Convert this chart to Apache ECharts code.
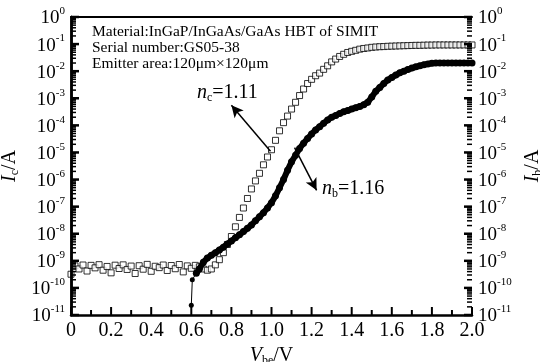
<!DOCTYPE html>
<html>
<head>
<meta charset="utf-8">
<script src="https://cdn.jsdelivr.net/npm/echarts@6/dist/echarts.min.js"></script>
<style>
  html, body { margin: 0; padding: 0; background: #fff; }
  #myChart { width: 540px; height: 362px; }
</style>
</head>
<body>
<div id="myChart"></div>
<script>
// Vbe sweep (V), shared by both currents
var vbe = [
  0.00, 0.02, 0.04, 0.06, 0.08, 0.10, 0.12, 0.14, 0.16, 0.18,
  0.20, 0.22, 0.24, 0.26, 0.28, 0.30, 0.32, 0.34, 0.36, 0.38,
  0.40, 0.42, 0.44, 0.46, 0.48, 0.50, 0.52, 0.54, 0.56, 0.58,
  0.60, 0.62, 0.64, 0.66, 0.68, 0.70, 0.72, 0.74, 0.76, 0.78,
  0.80, 0.82, 0.84, 0.86, 0.88, 0.90, 0.92, 0.94, 0.96, 0.98,
  1.00, 1.02, 1.04, 1.06, 1.08, 1.10, 1.12, 1.14, 1.16, 1.18,
  1.20, 1.22, 1.24, 1.26, 1.28, 1.30, 1.32, 1.34, 1.36, 1.38,
  1.40, 1.42, 1.44, 1.46, 1.48, 1.50, 1.52, 1.54, 1.56, 1.58,
  1.60, 1.62, 1.64, 1.66, 1.68, 1.70, 1.72, 1.74, 1.76, 1.78,
  1.80, 1.82, 1.84, 1.86, 1.88, 1.90, 1.92, 1.94, 1.96, 1.98,
  2.00
];

// collector current Ic (A), open squares
var icCurrent = [
  3.2e-10, 6.5e-10, 5.0e-10, 7.0e-10, 4.2e-10, 6.8e-10, 5.5e-10, 7.2e-10, 4.5e-10, 6.2e-10,
  3.6e-10, 6.9e-10, 5.2e-10, 7.1e-10, 4.8e-10, 6.4e-10, 3.4e-10, 6.6e-10, 4.9e-10, 7.4e-10,
  4.1e-10, 6.3e-10, 5.6e-10, 7.0e-10, 4.4e-10, 6.7e-10, 5.1e-10, 7.3e-10, 3.9e-10, 6.5e-10,
  5.3e-10, 6.8e-10, 6.0e-10, 5.0e-10, 4.5e-10, 5.0e-10, 7.1e-10, 1.1e-9, 2.0e-9, 4.0e-9,
  7.9e-9, 1.8e-8, 4.0e-8, 8.9e-8, 2.0e-7, 4.5e-7, 8.9e-7, 1.7e-6, 3.5e-6, 6.8e-6,
  1.26e-5, 2.8e-5, 6.3e-5, 1.26e-4, 2.2e-4, 4.0e-4, 7.1e-4, 1.26e-3, 2.2e-3, 3.5e-3,
  5.0e-3, 6.8e-3, 8.5e-3, 1.17e-2, 1.58e-2, 2.2e-2, 2.8e-2, 3.5e-2, 4.2e-2, 4.9e-2,
  5.4e-2, 5.9e-2, 6.5e-2, 6.9e-2, 7.2e-2, 7.6e-2, 7.8e-2, 8.0e-2, 8.1e-2, 8.3e-2,
  8.4e-2, 8.5e-2, 8.6e-2, 8.7e-2, 8.8e-2, 8.9e-2, 9.0e-2, 9.0e-2, 9.1e-2, 9.2e-2,
  9.2e-2, 9.3e-2, 9.3e-2, 9.3e-2, 9.3e-2, 9.3e-2, 9.3e-2, 9.3e-2, 9.3e-2, 9.3e-2,
  9.3e-2
];

// base current Ib (A), filled circles, from 0.64 V on
var ibStart = 32;
var ibCurrent = [
  5.0e-10, 8.9e-10, 1.26e-9, 1.6e-9, 2.0e-9, 2.5e-9, 3.2e-9, 4.2e-9, 5.4e-9, 7.1e-9,
  9.1e-9, 1.2e-8, 1.58e-8, 2.1e-8, 3.0e-8, 4.2e-8, 6.0e-8, 8.9e-8, 1.4e-7, 2.5e-7,
  5.0e-7, 1.0e-6, 2.2e-6, 4.5e-6, 7.9e-6, 1.4e-5, 2.2e-5, 3.3e-5, 4.8e-5, 6.8e-5,
  8.9e-5, 1.2e-4, 1.58e-4, 2.0e-4, 2.3e-4, 2.75e-4, 3.2e-4, 3.5e-4, 4.0e-4, 4.5e-4,
  5.0e-4, 5.8e-4, 7.1e-4, 1.12e-3, 1.8e-3, 2.5e-3, 3.5e-3, 4.7e-3, 5.9e-3, 7.2e-3,
  8.7e-3, 1.0e-2, 1.15e-2, 1.3e-2, 1.45e-2, 1.58e-2, 1.74e-2, 1.86e-2, 1.95e-2, 2.0e-2,
  2.0e-2, 2.0e-2, 2.0e-2, 2.0e-2, 2.0e-2, 2.0e-2, 2.0e-2, 2.0e-2, 2.0e-2
];
// the turn-on drop of Ib near 0.6 V
var ibTurnOnV = [0.600, 0.605, 0.625];
var ibTurnOnI = [2.3e-11, 2.0e-10, 3.5e-10];

// tick positions
var xMajorTicks = [0, 0.2, 0.4, 0.6, 0.8, 1.0, 1.2, 1.4, 1.6, 1.8, 2.0];
var xMinorTicks = [0.1, 0.3, 0.5, 0.7, 0.9, 1.1, 1.3, 1.5, 1.7, 1.9];
var decadeExps = [-11, -10, -9, -8, -7, -6, -5, -4, -3, -2, -1, 0];
var minorMantissas = [2, 3, 4, 5, 6, 7, 8, 9];

var infoLines = [
  'Material:InGaP/InGaAs/GaAs HBT of SIMIT',
  'Serial number:GS05-38',
  'Emitter area:120\u03bcm\u00d7120\u03bcm'
];

var FONT = '"Liberation Serif", "DejaVu Serif", serif';

function pairs(xs, ys, offset) {
  var d = [];
  for (var i = 0; i < ys.length; i++) {
    d.push([xs[i + (offset || 0)], ys[i]]);
  }
  return d;
}

function powLabel(v) {
  var e = Math.round(Math.log(v) / Math.LN10);
  return '{b|10}{s|' + e + '}';
}

var powRich = {
  b: { fontFamily: FONT, fontSize: 19, color: '#000', verticalAlign: 'bottom', lineHeight: 22 },
  s: { fontFamily: FONT, fontSize: 11, color: '#000', verticalAlign: 'top', lineHeight: 22 }
};

function nameRich(fs) {
  return {
    i: { fontFamily: FONT, fontSize: fs, fontStyle: 'italic', color: '#000' },
    sub: { fontFamily: FONT, fontSize: 12, color: '#000', verticalAlign: 'bottom', padding: [10, 0, 0, 0] },
    r: { fontFamily: FONT, fontSize: fs, color: '#000' }
  };
}

function makeYAxis(pos, nameSub) {
  return {
    type: 'log',
    logBase: 10,
    min: 1e-11,
    max: 1,
    interval: 1,
    position: pos,
    name: '{i|I}{sub|' + nameSub + '}{r|/A}',
    nameLocation: 'middle',
    nameGap: 50,
    nameRotate: 90,
    nameTextStyle: { rich: nameRich(20) },
    axisLine: { show: true, lineStyle: { color: '#000', width: 2.5 } },
    axisTick: { show: false },
    splitLine: { show: false },
    axisLabel: {
      margin: 6,
      showMinLabel: true,
      showMaxLabel: true,
      hideOverlap: false,
      formatter: powLabel,
      rich: powRich
    },
    z: 5
  };
}

var myChart = echarts.init(document.getElementById('myChart'), null, { renderer: 'canvas' });

var option = {
  backgroundColor: '#fff',
  animation: false,
  grid: {
    left: 71, right: 68, top: 17, bottom: 47,
    containLabel: false,
    outerBoundsMode: 'none',
    show: false
  },
  xAxis: [
    {
      type: 'value',
      position: 'bottom',
      min: 0,
      max: 2,
      interval: 0.2,
      name: '{i|V}{sub|be}{r|/V}',
      nameLocation: 'middle',
      nameGap: 29,
      nameTextStyle: { rich: nameRich(20) },
      axisLine: { show: true, onZero: false, lineStyle: { color: '#000', width: 2.5 } },
      axisTick: { show: false },
      splitLine: { show: false },
      axisLabel: {
        color: '#000', fontFamily: FONT, fontSize: 20, margin: 6,
        formatter: function (v) { return v === 0 ? '0' : v.toFixed(1); }
      },
      z: 5
    },
    {
      // plain top frame line
      type: 'value',
      position: 'top',
      min: 0,
      max: 2,
      axisLine: { show: true, onZero: false, lineStyle: { color: '#000', width: 2 } },
      axisTick: { show: false },
      axisLabel: { show: false },
      splitLine: { show: false }
    }
  ],
  yAxis: [makeYAxis('left', 'c'), makeYAxis('right', 'b')],
  graphic: [
    {
      type: 'text', left: 92, top: 24,
      style: { text: infoLines.join('\n'), font: '15.5px ' + FONT, fill: '#000', lineHeight: 16 }
    },
    {
      type: 'text', left: 197, top: 83,
      style: {
        text: '{i|n}{sub|c}{r|=1.11}',
        rich: nameRich(20)
      }
    },
    {
      type: 'text', left: 322, top: 179,
      style: {
        text: '{i|n}{sub|b}{r|=1.16}',
        rich: nameRich(20)
      }
    }
  ],
  series: [
    {
      name: 'Ic',
      type: 'scatter',
      yAxisIndex: 0,
      symbol: 'rect',
      symbolSize: 6,
      itemStyle: { color: '#fff', borderColor: '#000', borderWidth: 1 },
      data: pairs(vbe, icCurrent, 0),
      markLine: {
        silent: true,
        symbol: ['none', 'arrow'],
        symbolSize: [9, 12],
        label: { show: false },
        lineStyle: { color: '#000', width: 1.5, type: 'solid' },
        data: [
          [{ coord: [0.995, 1.1e-5] }, { coord: [0.80, 5.5e-4] }],
          [{ coord: [1.115, 1.5e-5] }, { coord: [1.225, 4.0e-7] }]
        ]
      },
      z: 3
    },
    {
      name: 'IbTurnOn',
      type: 'line',
      yAxisIndex: 0,
      symbol: 'circle',
      symbolSize: 5,
      showAllSymbol: true,
      itemStyle: { color: '#000' },
      lineStyle: { color: '#000', width: 1 },
      data: pairs(ibTurnOnV, ibTurnOnI, 0),
      z: 4
    },
    {
      name: 'Ib',
      type: 'line',
      yAxisIndex: 0,
      symbol: 'circle',
      symbolSize: 7,
      showAllSymbol: true,
      itemStyle: { color: '#000' },
      lineStyle: { color: '#000', width: 6 },
      data: [[ibTurnOnV[2], ibTurnOnI[2]]].concat(pairs(vbe, ibCurrent, ibStart)),
      z: 4
    }
  ]
};

myChart.setOption(option);

// inward ticks (log-spaced minor ticks), placed through the chart's own scales
function toPx(x, y) {
  return myChart.convertToPixel({ xAxisIndex: 0, yAxisIndex: 0 }, [x, y]);
}
function tickLine(x1, y1, x2, y2, w) {
  return {
    type: 'line', silent: true, z: 20,
    shape: { x1: x1, y1: y1, x2: x2, y2: y2 },
    style: { stroke: '#000', lineWidth: w }
  };
}
var ticks = [];
xMajorTicks.forEach(function (v) {
  var p = toPx(v, 1e-11);
  ticks.push(tickLine(p[0], p[1], p[0], p[1] - 8, 2));
});
xMinorTicks.forEach(function (v) {
  var p = toPx(v, 1e-11);
  ticks.push(tickLine(p[0], p[1], p[0], p[1] - 5, 2));
});
decadeExps.forEach(function (e) {
  var l = toPx(0, Math.pow(10, e));
  var r = toPx(2, Math.pow(10, e));
  ticks.push(tickLine(l[0], l[1], l[0] + 8, l[1], 2.5));
  ticks.push(tickLine(r[0], r[1], r[0] - 8, r[1], 2.5));
  if (e < 0) {
    minorMantissas.forEach(function (m) {
      var lm = toPx(0, m * Math.pow(10, e));
      var rm = toPx(2, m * Math.pow(10, e));
      ticks.push(tickLine(lm[0], lm[1], lm[0] + 5, lm[1], 1.5));
      ticks.push(tickLine(rm[0], rm[1], rm[0] - 5, rm[1], 1.5));
    });
  }
});
myChart.setOption({ graphic: option.graphic.concat(ticks) });
</script>
</body>
</html>
